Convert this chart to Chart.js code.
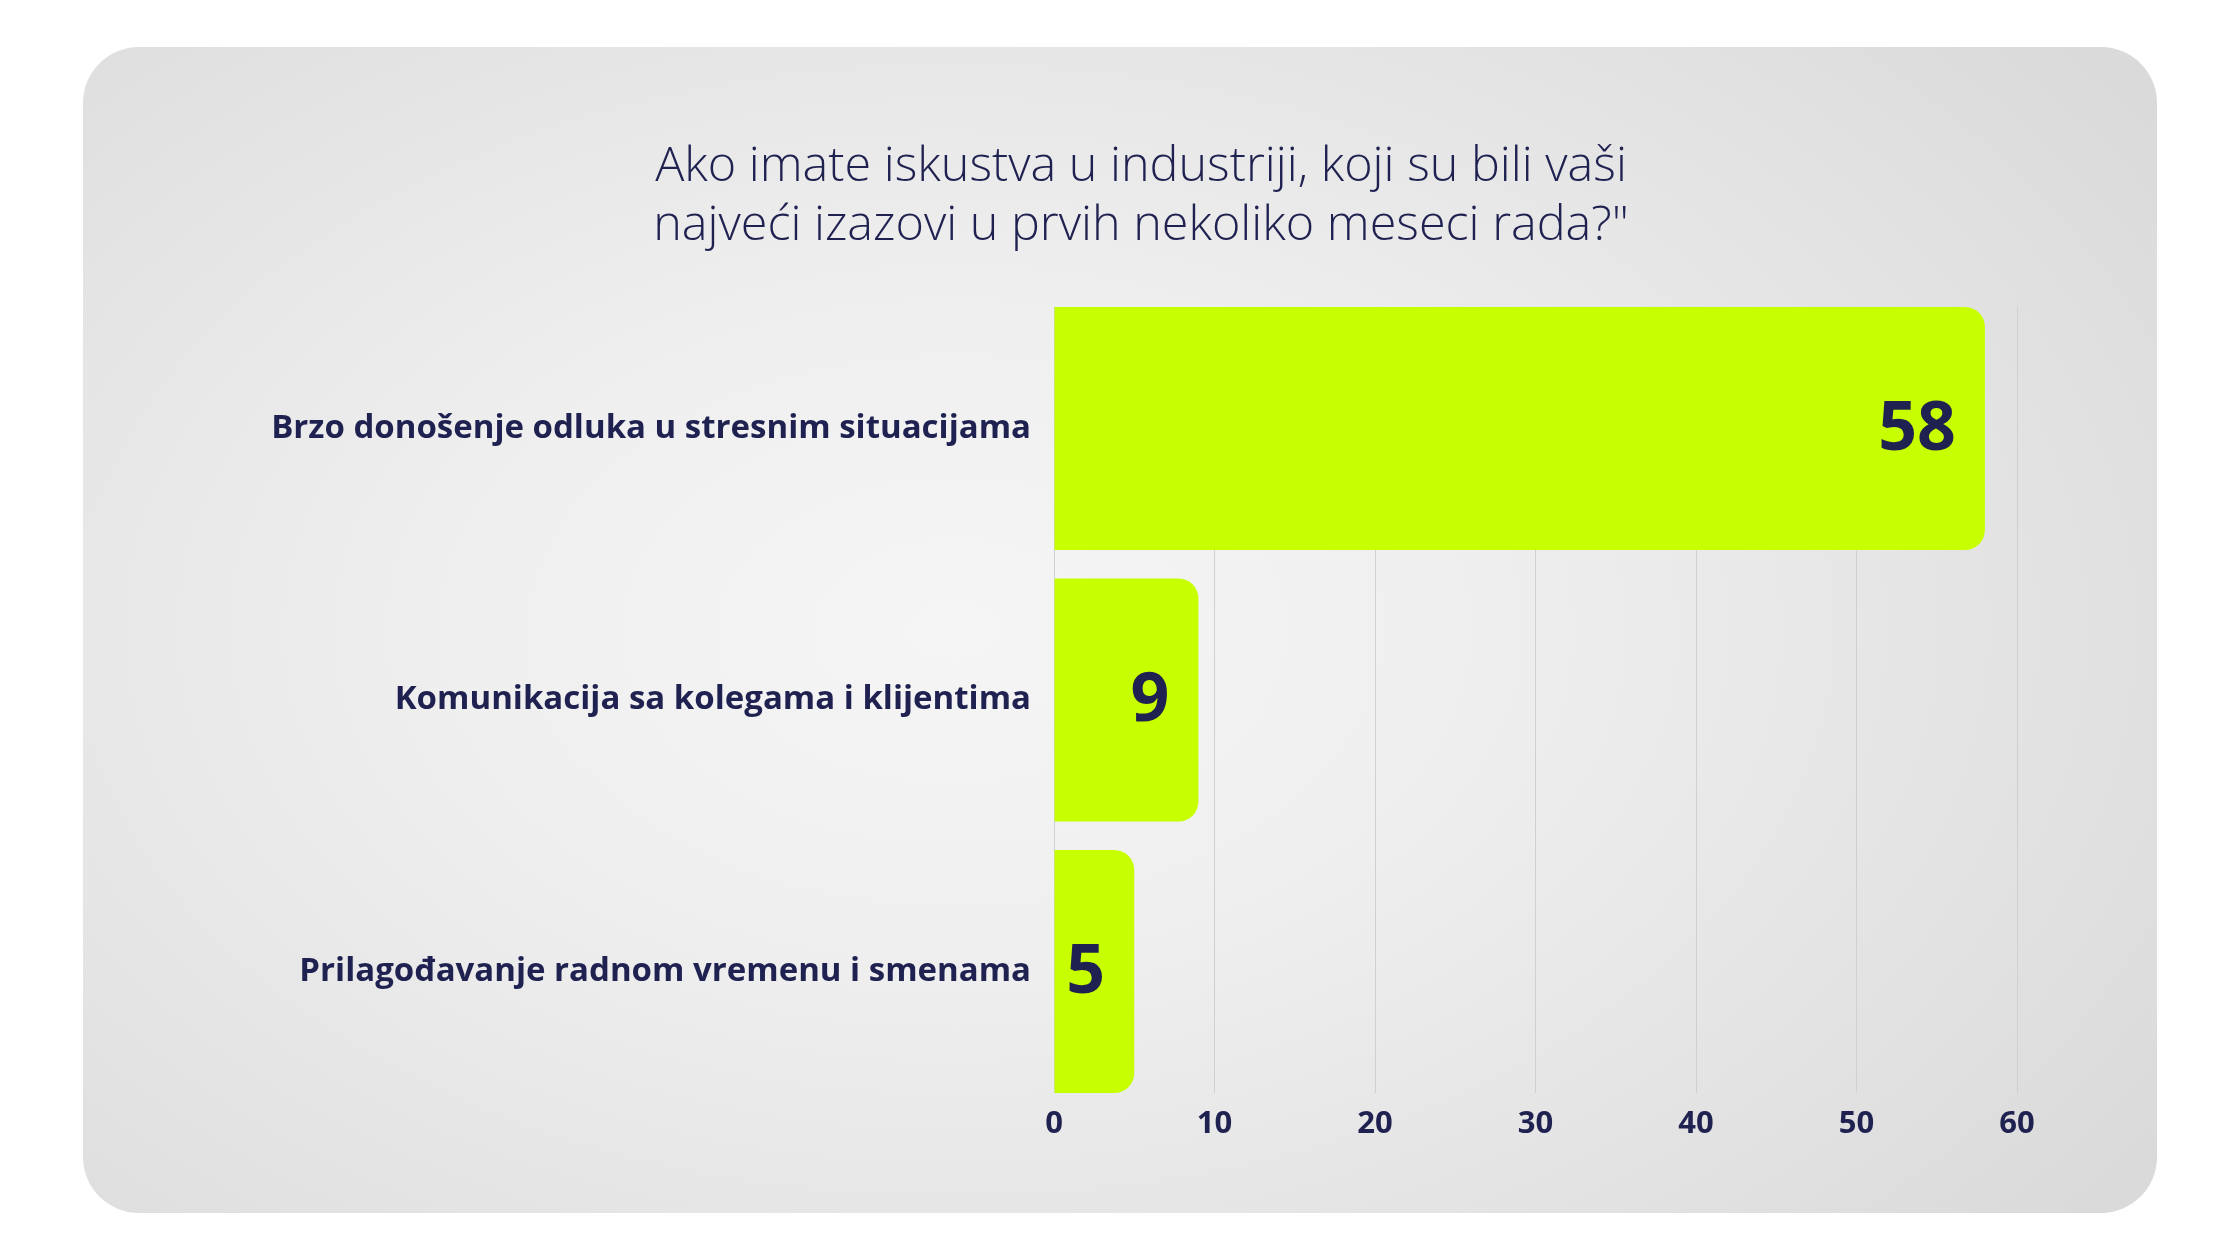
<!DOCTYPE html>
<html>
<head>
<meta charset="utf-8">
<script src="https://cdn.jsdelivr.net/npm/chart.js@4.4.1/dist/chart.umd.min.js"></script>
<style>
html, body { margin: 0; padding: 0; background: #ffffff; width: 2240px; height: 1260px; overflow: hidden; }
#card { position: absolute; left: 83px; top: 47px; width: 2074px; height: 1166px; border-radius: 56px;
  background: radial-gradient(ellipse 70% 80% at 42% 50%, #f5f5f5 0%, #efefef 35%, #e4e4e4 70%, #dadada 100%); }
#wrap { position: absolute; left: 0; top: 0; width: 2240px; height: 1260px; }
</style>
</head>
<body>
<div id="card"></div>
<div id="wrap"><canvas id="c" width="2240" height="1260"></canvas></div>
<script>
const titleLines = ["Ako imate iskustva u industriji, koji su bili vaši", "najveći izazovi u prvih nekoliko meseci rada?\""];
const categories = [
  "Brzo donošenje odluka u stresnim situacijama",
  "Komunikacija sa kolegama i klijentima",
  "Prilagođavanje radnom vremenu i smenama"
];
const values = [58, 9, 5];
const xTickValues = [0, 10, 20, 30, 40, 50, 60];

const FONT = "'Open Sans', 'Noto Sans', sans-serif";
const NAVY = '#1f2150';
const BAR = '#c8ff00';

const points = categories.map((c, i) => ({ x: values[i], y: i }));

const valueLabels = {
  id: 'valueLabels',
  afterDatasetsDraw(chart) {
    const ctx = chart.ctx;
    const meta = chart.getDatasetMeta(0);
    ctx.save();
    ctx.font = `700 68px ${FONT}`;
    ctx.fillStyle = NAVY;
    ctx.textAlign = 'right';
    ctx.textBaseline = 'middle';
    meta.data.forEach((bar, i) => {
      ctx.fillText(String(values[i]), bar.x - 29, bar.y + 2);
    });
    ctx.restore();
  }
};

new Chart(document.getElementById('c'), {
  type: 'bar',
  data: {
    datasets: [{
      data: points,
      backgroundColor: BAR,
      borderRadius: 20,
      borderSkipped: 'start',
      categoryPercentage: 1,
      barPercentage: 0.895
    }]
  },
  options: {
    indexAxis: 'y',
    responsive: false,
    animation: false,
    devicePixelRatio: 1,
    layout: { padding: { left: 265, right: 223, top: 137, bottom: 107 } },
    plugins: {
      legend: { display: false },
      tooltip: { enabled: false },
      title: {
        display: true,
        text: titleLines,
        color: NAVY,
        font: { family: FONT, size: 48.5, weight: 300, lineHeight: 1.23 },
        padding: { top: 0, bottom: 50.7 }
      }
    },
    scales: {
      x: {
        type: 'linear',
        min: 0,
        max: 60,
        afterBuildTicks: (scale) => { scale.ticks = xTickValues.map(v => ({ value: v })); },
        afterFit: (scale) => { scale.height = 60; },
        grid: { color: '#cfcfd6', lineWidth: 1, drawTicks: false },
        border: { display: false },
        ticks: { color: NAVY, padding: 13, font: { family: FONT, size: 31, weight: 700 } }
      },
      y: {
        type: 'linear',
        reverse: true,
        offset: false,
        bounds: 'data',
        min: -0.4475,
        max: 2.4475,
        afterBuildTicks: (scale) => { scale.ticks = categories.map((c, i) => ({ value: i })); },
        afterFit: (scale) => { scale.width = 789; },
        grid: { display: false, drawTicks: false, offset: false },
        border: { display: false },
        ticks: {
          color: NAVY,
          padding: 23,
          font: { family: FONT, size: 33, weight: 700 },
          callback: (v) => categories[v]
        }
      }
    }
  },
  plugins: [valueLabels]
});
</script>
</body>
</html>
